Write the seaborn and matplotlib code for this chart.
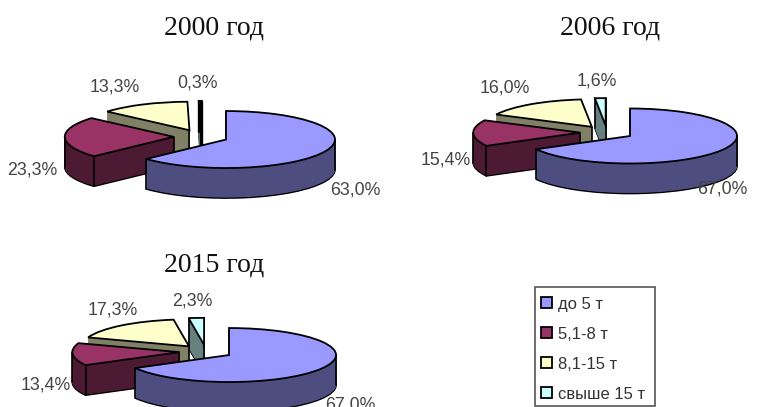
import itertools
import numpy as np
import matplotlib
matplotlib.use("Agg")
import matplotlib.pyplot as plt
from matplotlib.patches import Patch, Rectangle
import seaborn as sns

sns.set_theme(style="white")
plt.rcParams["font.family"] = ["Liberation Sans", "DejaVu Sans"]

# Shares of each load class, percent
categories = ["до 5 т", "5,1-8 т", "8,1-15 т", "свыше 15 т"]
years = ["2000 год", "2006 год", "2015 год"]
shares_2000 = [63.0, 23.3, 13.3, 0.3]
shares_2006 = [67.0, 15.4, 16.0, 1.6]
shares_2015 = [67.0, 13.4, 17.3, 2.3]
all_shares = [shares_2000, shares_2006, shares_2015]

top_colors = sns.color_palette(["#9999FF", "#993366", "#FFFFCC", "#CCFFFF"])
side_colors = sns.color_palette(["#4D4D80", "#4D1A33", "#808066", "#668080"])

W, H = 773, 407
EXPLODE = 0.25
DEPTH_PX = 30

# Pie layout in pixels: centre x, centre y, x radius, y radius
pie_boxes = [(201, 136.7, 109, 28.5), (607, 132.5, 107, 27.5), (206, 351.6, 107, 27.0)]
title_spots = [(214, 28), (610, 28), (214, 265)]
# Label spots per pie, in slice order
label_spots = [
    [(355, 190), (32, 170), (115, 87), (197, 83)],
    [(722, 189), (446, 160), (505, 88), (597, 81)],
    [(350, 405), (46, 385), (113, 310), (192, 301)],
]

fig = plt.figure(figsize=(W / 100, H / 100), dpi=100, facecolor="white")


def fx(x):
    return x / W


def fy(y):
    return 1 - y / H


def one_slice(ax, values, idx, drop, order, color, edge, lw):
    """Draw a single exploded slice of the pie, shifted down by drop."""
    wedges, _ = ax.pie(
        values,
        explode=[EXPLODE] * len(values),
        center=(0, -drop),
        startangle=90,
        counterclock=False,
        radius=1,
        colors=[color] * len(values),
        wedgeprops={"edgecolor": edge, "linewidth": lw},
    )
    keep = wedges[idx]
    keep.set_zorder(next(order))
    for j, w in enumerate(wedges):
        if j != idx:
            w.remove()
    return keep


def draw_pie(values, box):
    cx, cy, rx, ry = box
    ax = fig.add_axes([0, 0, 1, 1], facecolor="none")
    depth = DEPTH_PX / ry
    order = itertools.count(1)
    # Back slices first, so nearer ones cover them
    for idx in [3, 2, 1, 0]:
        floor = one_slice(ax, values, idx, depth, order, side_colors[idx], "black", 1.2)
        for px in range(DEPTH_PX - 1, 0, -1):
            one_slice(ax, values, idx, px / ry, order, side_colors[idx], side_colors[idx], 0.6)

        # Vertical seams: the apex, plus rim ends on the near half and silhouette points
        x0, y0 = floor.center
        y0 += depth
        lo, hi = sorted((float(floor.theta1), float(floor.theta2)))
        extremes = [a for a in (-360, -180, 0, 180, 360) if lo < a < hi]
        near_ends = [a for a in (lo, hi) if np.sin(np.radians(a)) < 0]
        faces_front = any(lo < a < hi for a in (-450, -90, 270, 630))
        seams = [] if faces_front else [(x0, y0)]
        if idx == 3:
            # The narrow back slice shows both of its rim ends
            near_ends = [lo, hi]
        seams += [(x0 + np.cos(np.radians(a)), y0 + np.sin(np.radians(a)))
                  for a in near_ends + extremes]
        # A sliver of a slice reads as one solid dark line
        seam_lw = 2.4 if hi - lo < 2 else 1.2
        for sx, sy in seams:
            ax.plot([sx, sx], [sy, sy - depth], color="black", lw=seam_lw, zorder=next(order))

        one_slice(ax, values, idx, 0, order, top_colors[idx], "black", 1.3)

    ax.set_aspect("auto")
    ax.set_xlim((0 - cx) / rx, (W - cx) / rx)
    ax.set_ylim((cy - H) / ry, (cy - 0) / ry)
    ax.axis("off")
    return ax


for values, box in zip(all_shares, pie_boxes):
    draw_pie(values, box)

for name, (tx, ty) in zip(years, title_spots):
    fig.text(fx(tx), fy(ty), name, ha="center", va="center", fontsize=20,
             family="Liberation Serif", color="#111111")

for values, spots in zip(all_shares, label_spots):
    for v, (lx, ly) in zip(values, spots):
        fig.text(fx(lx), fy(ly), f"{v:.1f}%".replace(".", ","), ha="center", va="center",
                 fontsize=12.8, color="#444444")

# Legend box and its rows
fig.add_artist(Rectangle((fx(535), fy(406)), 120 / W, 119 / H, transform=fig.transFigure,
                         facecolor="white", edgecolor="#555555", linewidth=1.2, zorder=9))
handles = [Patch(facecolor=c, edgecolor="black", linewidth=1.3) for c in top_colors]
leg = fig.legend(
    handles, categories,
    loc="upper left",
    bbox_to_anchor=(fx(541), fy(296.6)),
    bbox_transform=fig.transFigure,
    frameon=False,
    fontsize=12,
    labelcolor="#333333",
    handlelength=0.68, handleheight=0.68, handletextpad=0.36,
    labelspacing=0.9, borderpad=0, borderaxespad=0,
)
leg.set_zorder(10)

fig.savefig("out.png", dpi=100)
